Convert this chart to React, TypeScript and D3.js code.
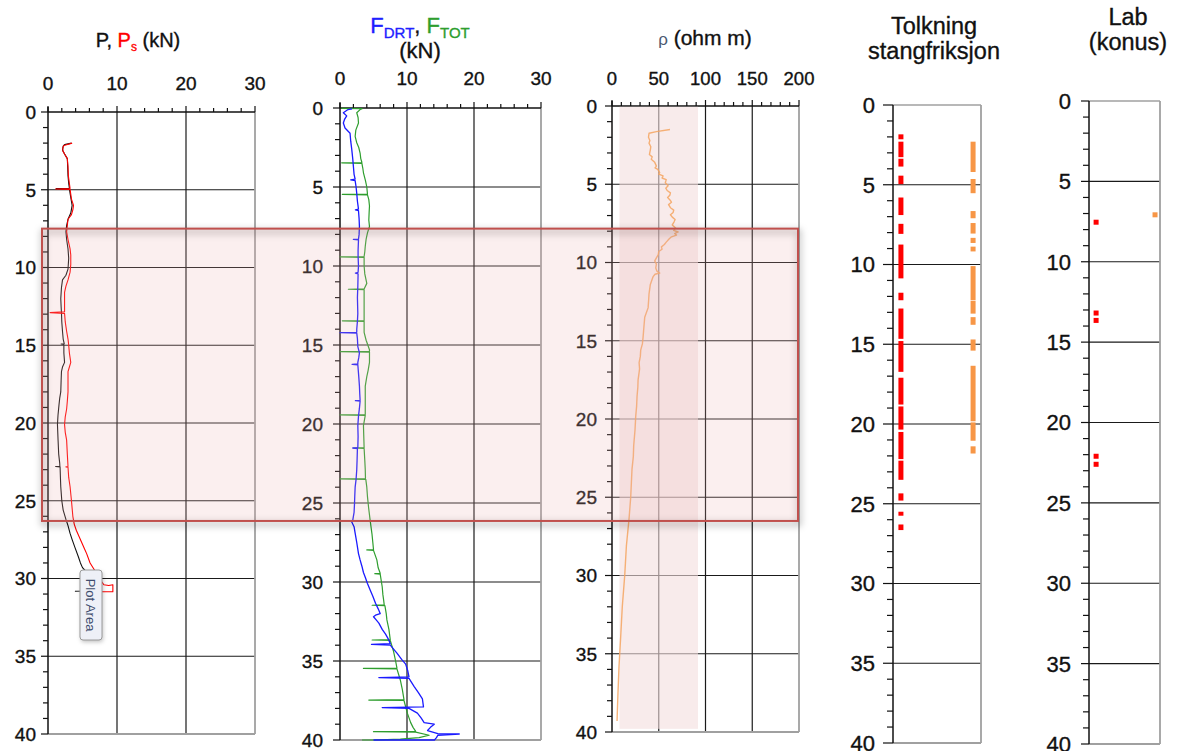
import React from 'react';
import * as d3 from 'd3';

// ---------------- DATA ----------------
const DEPTH_MAJOR = [0, 5, 10, 15, 20, 25, 30, 35, 40];
const DEPTH_MINOR = d3.range(0, 41, 1);

const P1_TICKS = [0, 10, 20, 30];
const P2_TICKS = [0, 10, 20, 30];
const P3_TICKS = [0, 50, 100, 150, 200];

// P (black) [depth m, kN]
const P_BLACK: [number, number][] = [
  [2.0, 3.4], [2.1, 2.4], [2.2, 2.2], [2.45, 2.1], [2.7, 2.4], [3.0, 2.8], [3.5, 2.85], [4.1, 2.9], [4.6, 3.0], [4.9, 3.1],
  [4.93, 1.2], [4.96, 3.1], [5.5, 3.3], [6.0, 3.5], [6.5, 3.3], [6.9, 2.9], [7.3, 2.7], [7.7, 2.6], [8.2, 2.7], [8.8, 2.9],
  [9.4, 3.0], [10.1, 2.9], [10.5, 2.6], [10.8, 2.1], [11.3, 1.95], [12.0, 1.85], [12.5, 1.9], [12.9, 1.95], [13.5, 2.0],
  [14.1, 2.1], [14.6, 2.2], [14.9, 2.35], [14.92, 1.9], [14.95, 2.3], [15.5, 2.3], [16.1, 2.4], [16.4, 2.1], [16.7, 1.95],
  [17.3, 1.9], [18.0, 1.85], [18.4, 1.7], [18.8, 1.6], [19.5, 1.45], [20.1, 1.37], [21.1, 1.46], [22.0, 1.55], [22.6, 1.7],
  [22.78, 1.72], [22.8, 1.1], [22.82, 1.75], [23.5, 1.8], [24.1, 1.85], [25.0, 2.0], [25.6, 2.2], [26.2, 2.6], [26.6, 2.9],
  [27.1, 3.2], [27.5, 3.5], [28.0, 3.9], [28.6, 4.4], [29.0, 4.7], [29.3, 5.0], [29.5, 5.4], [30.0, 5.6], [30.5, 5.3],
  [30.8, 5.0], [30.82, 3.9],
];

// Ps (red)
const PS_RED: [number, number][] = [
  [2.0, 3.5], [2.15, 2.3], [2.3, 2.15], [2.5, 2.15], [2.7, 2.4], [3.0, 2.8], [3.5, 2.9], [4.1, 2.95], [4.6, 3.1], [4.92, 3.2],
  [4.95, 1.1], [4.98, 3.2], [5.6, 3.4], [6.0, 3.7], [6.3, 3.6], [6.6, 3.4], [6.9, 2.9], [7.3, 2.8], [7.7, 2.7], [8.2, 2.9],
  [8.8, 3.2], [9.2, 3.3], [9.8, 3.3], [10.3, 3.2], [10.8, 2.9], [11.2, 2.6], [11.6, 2.4], [12.2, 2.4], [12.85, 2.4],
  [12.9, 0.3], [12.95, 2.4], [13.5, 2.5], [14.1, 2.7], [14.6, 2.9], [15.0, 3.0], [15.5, 3.1], [16.1, 3.3], [16.4, 3.1],
  [16.7, 2.9], [17.3, 2.9], [18.0, 2.9], [18.6, 2.8], [19.1, 2.7], [19.6, 2.5], [20.1, 2.4], [20.6, 2.5], [21.1, 2.7],
  [22.0, 2.8], [22.8, 2.9], [22.82, 2.6], [22.85, 2.9], [23.5, 3.0], [24.1, 3.2], [25.0, 3.4], [26.0, 3.6], [26.5, 3.8],
  [26.9, 4.1], [27.3, 4.5], [27.7, 4.9], [28.1, 5.3], [28.4, 5.6], [29.0, 6.1], [29.5, 6.8], [29.8, 7.2], [30.1, 7.6],
  [30.4, 8.1], [30.45, 8.8], [30.4, 9.4], [30.85, 9.4], [30.85, 7.8],
];

// F_DRT (blue)
const F_DRT: [number, number][] = [
  [0.05, 1.8], [0.1, 1.2], [0.3, 0.5], [0.5, 1.0], [0.7, 0.7], [0.95, 0.5], [1.27, 0.75], [1.6, 1.5], [2.1, 1.6], [2.6, 1.75],
  [3.2, 1.9], [3.7, 2.0], [4.2, 2.1], [4.5, 2.26], [4.55, 1.6], [4.6, 2.26], [5.0, 2.4], [5.4, 2.5], [5.9, 2.6], [6.4, 2.76],
  [6.45, 2.3], [6.5, 2.76], [7.0, 2.85], [7.5, 2.9], [8.0, 2.85], [8.3, 2.76], [8.32, 2.0], [8.35, 2.76], [9.0, 2.7],
  [9.4, 2.7], [10.0, 2.76], [10.4, 2.7], [10.45, 2.3], [10.5, 2.7], [11.3, 2.66], [12.0, 2.6], [13.0, 2.66], [13.5, 2.6],
  [14.0, 2.5], [14.2, 2.5], [14.22, 0.0], [14.25, 2.5], [14.6, 2.6], [15.1, 2.66], [15.5, 2.9], [15.8, 2.8], [16.1, 2.66],
  [16.2, 2.66], [16.22, 1.8], [16.25, 2.66], [17.0, 2.8], [17.6, 2.9], [18.1, 2.95], [18.5, 3.0], [18.52, 2.3], [18.55, 3.0],
  [19.0, 2.9], [19.5, 2.76], [20.1, 2.66], [20.8, 2.7], [21.5, 2.66], [21.52, 1.9], [21.55, 2.6], [22.3, 2.55], [22.9, 2.5],
  [23.5, 2.4], [24.0, 2.26], [24.6, 2.2], [25.1, 2.16], [25.6, 2.1], [26.1, 1.9], [26.15, 1.7], [26.5, 2.1], [26.9, 2.26],
  [27.5, 2.5], [28.2, 2.76], [28.6, 3.0], [29.0, 3.27], [29.4, 3.5], [29.7, 3.77], [30.1, 4.1], [30.5, 4.5], [30.9, 4.9],
  [31.35, 5.3], [31.7, 5.7], [32.0, 6.0], [32.1, 5.3], [32.2, 5.0], [32.4, 5.4], [32.6, 5.8], [33.0, 6.3], [33.3, 6.8],
  [33.6, 7.2], [33.9, 7.5], [33.95, 4.7], [34.0, 7.5], [34.5, 8.5], [34.9, 9.2], [35.2, 9.8], [35.6, 10.1], [36.0, 10.3],
  [36.05, 5.8], [36.1, 10.3], [36.6, 11.05], [37.0, 11.7], [37.4, 12.3], [37.9, 12.46], [37.92, 10.3], [37.95, 6.3],
  [38.0, 10.3], [38.3, 11.55], [38.6, 12.1], [38.9, 12.56], [39.0, 14.07], [39.2, 13.5], [39.4, 13.07], [39.6, 14.6],
  [39.62, 17.8], [39.7, 14.6], [39.85, 14.4], [40.0, 14.1], [40.0, 5.0],
];

// F_TOT (green)
const F_TOT: [number, number][] = [
  [0.02, 0.2], [0.04, 3.3], [0.1, 3.0], [0.3, 2.5], [0.6, 2.7], [0.95, 2.76], [1.4, 2.36], [1.8, 2.26], [2.2, 2.5],
  [2.5, 2.8], [2.85, 3.0], [3.2, 3.1], [3.45, 3.27], [3.47, 0.25], [3.5, 3.27], [3.8, 3.4], [4.1, 3.5], [4.6, 3.8],
  [5.0, 4.0], [5.45, 4.1], [5.47, 0.35], [5.5, 4.1], [5.8, 4.3], [6.2, 4.4], [6.6, 4.35], [7.1, 4.3], [7.5, 4.4], [7.9, 4.1],
  [8.3, 3.9], [8.75, 3.77], [9.1, 3.7], [9.4, 3.6], [9.42, 0.0], [9.45, 3.6], [10.0, 3.6], [10.5, 3.7], [11.1, 4.0],
  [11.45, 3.6], [11.47, 1.25], [11.5, 3.6], [12.2, 3.6], [13.0, 3.6], [13.45, 3.6], [13.47, 0.35], [13.5, 3.6], [14.2, 3.6],
  [14.7, 3.9], [15.3, 4.4], [15.4, 4.4], [15.42, 0.0], [15.45, 4.4], [16.1, 4.4], [16.6, 4.2], [17.0, 4.0], [17.6, 3.77],
  [18.5, 3.77], [19.3, 3.77], [19.4, 3.77], [19.42, 0.0], [19.45, 3.77], [20.1, 3.5], [20.8, 3.55], [21.5, 3.6],
  [21.52, 2.0], [21.55, 3.6], [22.3, 3.7], [22.9, 3.77], [23.45, 3.8], [23.47, 0.0], [23.5, 3.85], [24.0, 4.0], [24.6, 4.1],
  [25.3, 4.27], [26.1, 4.5], [26.95, 4.77], [27.5, 4.9], [27.95, 5.0], [27.97, 4.0], [28.0, 5.0], [28.6, 5.5], [29.1, 5.7],
  [29.45, 6.0], [29.47, 5.2], [29.5, 6.0], [30.3, 6.3], [30.8, 6.4], [31.1, 6.5], [31.45, 6.6], [31.47, 4.8], [31.5, 6.7],
  [32.0, 6.9], [32.4, 7.0], [33.0, 7.3], [33.65, 7.5], [33.67, 4.8], [33.7, 7.5], [34.4, 8.0], [35.0, 8.3], [35.45, 8.5],
  [35.47, 3.5], [35.5, 8.5], [36.2, 9.0], [36.8, 9.3], [37.45, 9.55], [37.47, 4.3], [37.5, 9.55], [38.3, 10.05],
  [38.9, 10.55], [39.2, 10.9], [39.45, 11.3], [39.47, 5.0], [39.5, 11.3], [39.7, 13.3], [39.85, 11.8], [39.95, 9.0],
  [40.0, 5.0], [40.0, 3.3],
];

// resistivity rho (orange) [depth, ohm m]
const RHO: [number, number][] = [
  [1.5, 62], [1.64, 47.5], [1.74, 39.6], [2.0, 39], [2.2, 40.5], [2.37, 39.6], [2.6, 41.5], [2.8, 41], [3.1, 40],
  [3.25, 43], [3.4, 42], [3.6, 45.7], [3.84, 47.5], [3.95, 46], [4.05, 49], [4.26, 51], [4.35, 50], [4.47, 54.6],
  [4.6, 53.5], [4.7, 58], [4.9, 57], [5.1, 60], [5.25, 57.5], [5.4, 59], [5.55, 62.5], [5.7, 61.8], [5.85, 59.5],
  [6.0, 62], [6.15, 63.6], [6.3, 60.5], [6.5, 62.5], [6.65, 66], [6.8, 65.4], [6.95, 62.5], [7.1, 64.5], [7.25, 67.5],
  [7.4, 66.4], [7.6, 64.5], [7.8, 68], [7.95, 66], [8.05, 70.7], [8.15, 67], [8.25, 69], [8.36, 63.6], [8.5, 61],
  [8.7, 58], [8.85, 56], [9.0, 52.9], [9.15, 53.5], [9.3, 50], [9.5, 49.5], [9.7, 47.5], [9.9, 45.7], [10.1, 47.5],
  [10.35, 46.8], [10.55, 48], [10.67, 51], [10.75, 46], [10.9, 44], [11.4, 41], [12.0, 39.6], [12.4, 39.2], [12.9, 38.6],
  [13.5, 35], [14.2, 34], [14.8, 33.2], [15.2, 32.5], [15.6, 30.7], [16.0, 30.3], [16.4, 29], [16.8, 29.5], [17.5, 27.9],
  [18.0, 27.6], [18.55, 26.8], [19.2, 26.3], [19.8, 25.4], [20.7, 24.6], [21.7, 23.2], [22.4, 22.8], [23.2, 21.4],
  [25.0, 20], [26.4, 18.2], [28.1, 15.4], [30, 13.6], [32, 11], [33.9, 9.3], [35.8, 7.5], [37.5, 6.4], [39.3, 5.4],
];
const RHO_BAND: [number, number] = [8, 92];
const RHO_BAND_DEPTH: [number, number] = [0.05, 39.8];

// Tolkning stangfriksjon: depth intervals
const TOLK_RED: [number, number][] = [
  [1.84, 2.15], [2.3, 3.27], [3.37, 3.86], [4.43, 4.96], [5.8, 6.9], [7.45, 8.08], [8.75, 10.87], [11.77, 12.24],
  [12.76, 14.66], [14.8, 16.73], [17.1, 18.78], [18.9, 20.35], [20.5, 22.2], [22.3, 23.5], [24.35, 24.8], [25.5, 25.75],
  [26.3, 26.65],
];
const TOLK_ORANGE: [number, number][] = [
  [2.3, 4.2], [4.64, 5.53], [6.65, 7.1], [7.4, 8.06], [8.33, 8.65], [8.88, 9.18], [10.1, 12.24], [12.28, 13.08],
  [13.3, 13.78], [14.7, 15.4], [16.35, 19.83], [19.9, 21.05], [21.4, 21.85],
];
// Lab (konus) points
const LAB_RED = [7.54, 13.19, 13.65, 22.1, 22.6];
const LAB_ORANGE = [7.08];

// Shaded highlight depth interval
const HIGHLIGHT_DEPTH: [number, number] = [7.5, 26.3];

// ---------------- LAYOUT ----------------
const FONT = 'Liberation Sans, Arial, sans-serif';
const GRID = '#1a1a1a';
const BORDER = '#a0a0a0';
const TXT_STROKE = 0.35;

type Cfg = {
  x0: number; x1: number; y0: number; y1: number;
  xDom: [number, number]; xTicks: number[]; xMinor: number[];
  xLabelBase: number; xFont: number; yFont: number; yLabelRight: number;
  majorLen: number; minorLen: number; showX: boolean;
};

const C1: Cfg = { x0: 48, x1: 255, y0: 112, y1: 734, xDom: [0, 30], xTicks: P1_TICKS, xMinor: d3.range(0, 31, 2),
  xLabelBase: 90, xFont: 19, yFont: 19, yLabelRight: 36, majorLen: 7, minorLen: 5, showX: true };
const C2: Cfg = { x0: 340, x1: 541, y0: 108, y1: 740, xDom: [0, 30], xTicks: P2_TICKS, xMinor: d3.range(0, 31, 2),
  xLabelBase: 85, xFont: 19, yFont: 19, yLabelRight: 323, majorLen: 7, minorLen: 5, showX: true };
const C3: Cfg = { x0: 612, x1: 799, y0: 106, y1: 732, xDom: [0, 200], xTicks: P3_TICKS, xMinor: d3.range(0, 201, 10),
  xLabelBase: 85, xFont: 18.5, yFont: 19, yLabelRight: 597, majorLen: 7, minorLen: 5, showX: true };
const C4: Cfg = { x0: 893, x1: 981, y0: 105, y1: 743, xDom: [0, 1], xTicks: [0, 1], xMinor: [],
  xLabelBase: 0, xFont: 0, yFont: 22, yLabelRight: 875, majorLen: 10, minorLen: 6, showX: false };
const C5: Cfg = { x0: 1089, x1: 1160, y0: 101, y1: 744, xDom: [0, 1], xTicks: [0, 1], xMinor: [],
  xLabelBase: 0, xFont: 0, yFont: 22, yLabelRight: 1071, majorLen: 8, minorLen: 6, showX: false };

const TOLK_X = { red: 0.09, orange: 0.91 };
const LAB_X = { red: 0.1, orange: 0.93 };

function scales(c: Cfg) {
  const x = d3.scaleLinear().domain(c.xDom).range([c.x0, c.x1]);
  const y = d3.scaleLinear().domain([0, 40]).range([c.y0, c.y1]);
  return { x, y };
}

function Frame({ c }: { c: Cfg }) {
  const { x, y } = scales(c);
  const inner = DEPTH_MAJOR.filter(d => d > 0 && d < 40);
  const vGrid = c.xTicks.filter(t => t > c.xDom[0] && t < c.xDom[1]);
  return (
    <g>
      {inner.map(d => (
        <line key={'h' + d} x1={c.x0} x2={c.x1} y1={y(d)} y2={y(d)} stroke={GRID} strokeWidth={1.2} />
      ))}
      {vGrid.map(t => (
        <line key={'v' + t} x1={x(t)} x2={x(t)} y1={c.y0} y2={c.y1} stroke={GRID} strokeWidth={1.2} />
      ))}
      <line x1={c.x1} x2={c.x1} y1={c.y0} y2={c.y1} stroke={BORDER} strokeWidth={1.8} />
      <line x1={c.x0} x2={c.x1} y1={c.y1} y2={c.y1} stroke={BORDER} strokeWidth={1.8} />
      <line x1={c.x0} x2={c.x1} y1={c.y0} y2={c.y0} stroke={c.showX ? '#111' : BORDER} strokeWidth={1.5} />
      <line x1={c.x0} x2={c.x0} y1={c.y0 - (c.showX ? 5 : 0)} y2={c.y1} stroke="#111" strokeWidth={1.5} />
      {DEPTH_MINOR.map(d => (
        <line key={'ym' + d} x1={c.x0 - (d % 5 === 0 ? c.majorLen : c.minorLen)} x2={c.x0} y1={y(d)} y2={y(d)}
          stroke="#111" strokeWidth={1.2} />
      ))}
      {DEPTH_MAJOR.map(d => (
        <text key={'yl' + d} x={c.yLabelRight} y={y(d)} dy="0.36em" textAnchor="end" fontFamily={FONT}
          fontSize={c.yFont} fill="#111" stroke="#111" strokeWidth={TXT_STROKE}>{d}</text>
      ))}
      {c.showX && c.xMinor.map(t => (
        <line key={'xm' + t} x1={x(t)} x2={x(t)} y1={c.y0 - (c.xTicks.includes(t) ? 6 : 4)} y2={c.y0}
          stroke="#111" strokeWidth={1.2} />
      ))}
      {c.showX && c.xTicks.map(t => (
        <text key={'xl' + t} x={x(t)} y={c.xLabelBase} textAnchor="middle" fontFamily={FONT} fontSize={c.xFont}
          fill="#111" stroke="#111" strokeWidth={TXT_STROKE}>{t}</text>
      ))}
    </g>
  );
}

function Curve({ c, data, color, width = 1, opacity = 1 }:
  { c: Cfg; data: [number, number][]; color: string; width?: number; opacity?: number }) {
  const { x, y } = scales(c);
  const line = d3.line<[number, number]>().x(d => x(d[1])).y(d => y(d[0]));
  return <path d={line(data) || ''} fill="none" stroke={color} strokeWidth={width} strokeOpacity={opacity}
    strokeLinejoin="round" />;
}

export default function App() {
  const s3 = scales(C3);
  const s4 = scales(C4);
  const s5 = scales(C5);
  const s1 = scales(C1);
  const hlTop = s1.y(HIGHLIGHT_DEPTH[0]);
  const hlBot = s1.y(HIGHLIGHT_DEPTH[1]);
  const hlLeft = 42, hlRight = 798;
  const tStroke = { stroke: '#111', strokeWidth: TXT_STROKE };

  return (
    <svg width={1177} height={751} viewBox="0 0 1177 751"
      style={{ position: 'absolute', left: 0, top: 0, background: '#fff' }}>
      <defs>
        <filter id="sh" x="-10%" y="-20%" width="120%" height="150%">
          <feGaussianBlur stdDeviation="3.5" />
        </filter>
        <filter id="sh2" x="-50%" y="-20%" width="200%" height="150%">
          <feGaussianBlur stdDeviation="2" />
        </filter>
      </defs>
      <rect x={0} y={0} width={1177} height={751} fill="#fff" />

      {/* Titles */}
      <text x={138} y={47} textAnchor="middle" fontFamily={FONT} fontSize={20} fill="#111" {...tStroke}>
        <tspan>P, </tspan><tspan fill="#ff0000" stroke="#ff0000">P</tspan>
        <tspan fill="#ff0000" stroke="#ff0000" fontSize={12} dy={4}>s</tspan>
        <tspan dy={-4}>{'  (kN)'}</tspan>
      </text>
      <text x={420} y={33} textAnchor="middle" fontFamily={FONT} fontSize={22} fill="#111" {...tStroke}>
        <tspan fill="#2020ff" stroke="#2020ff">F</tspan>
        <tspan fill="#2020ff" stroke="#2020ff" fontSize={15} dy={5}>DRT</tspan>
        <tspan dy={-5}>, </tspan>
        <tspan fill="#2e9e2e" stroke="#2e9e2e">F</tspan>
        <tspan fill="#2e9e2e" stroke="#2e9e2e" fontSize={15} dy={5}>TOT</tspan>
      </text>
      <text x={420} y={58} textAnchor="middle" fontFamily={FONT} fontSize={22} fill="#111" {...tStroke}>(kN)</text>
      <text x={705} y={45} textAnchor="middle" fontFamily={FONT} fontSize={21} fill="#111" {...tStroke}>
        <tspan fill="#4a5870" stroke="none" fontSize={17}>ρ</tspan>
        <tspan>{'  (ohm m)'}</tspan>
      </text>
      <text x={934} y={34} textAnchor="middle" fontFamily={FONT} fontSize={23.5} fill="#111" {...tStroke}>Tolkning</text>
      <text x={934} y={59} textAnchor="middle" fontFamily={FONT} fontSize={23.5} fill="#111" {...tStroke}>stangfriksjon</text>
      <text x={1128} y={25} textAnchor="middle" fontFamily={FONT} fontSize={23.5} fill="#111" {...tStroke}>Lab</text>
      <text x={1128} y={50} textAnchor="middle" fontFamily={FONT} fontSize={23.5} fill="#111" {...tStroke}>(konus)</text>

      {/* Panel 1 */}
      <Frame c={C1} />
      <Curve c={C1} data={P_BLACK} color="#111" width={1.1} />
      <Curve c={C1} data={PS_RED} color="#ff0000" width={1.1} />

      {/* Panel 2 */}
      <Frame c={C2} />
      <Curve c={C2} data={F_TOT} color="#2e9e2e" width={1.2} />
      <Curve c={C2} data={F_DRT} color="#1a1aff" width={1.3} />

      {/* Panel 3 */}
      <Frame c={C3} />
      <rect x={s3.x(RHO_BAND[0])} width={s3.x(RHO_BAND[1]) - s3.x(RHO_BAND[0])}
        y={s3.y(RHO_BAND_DEPTH[0])} height={s3.y(RHO_BAND_DEPTH[1]) - s3.y(RHO_BAND_DEPTH[0])}
        fill="#f3dede" fillOpacity={0.6} />
      <Curve c={C3} data={RHO} color="#f4a460" width={1.4} opacity={0.85} />

      {/* Panel 4 */}
      <Frame c={C4} />
      {TOLK_RED.map((iv, i) => (
        <rect key={'tr' + i} x={s4.x(TOLK_X.red) - 2.5} width={5} y={s4.y(iv[0])} height={s4.y(iv[1]) - s4.y(iv[0])}
          fill="#ff0000" />
      ))}
      {TOLK_ORANGE.map((iv, i) => (
        <rect key={'to' + i} x={s4.x(TOLK_X.orange) - 2.5} width={5} y={s4.y(iv[0])} height={s4.y(iv[1]) - s4.y(iv[0])}
          fill="#f79646" />
      ))}

      {/* Panel 5 */}
      <Frame c={C5} />
      {LAB_RED.map((d, i) => (
        <rect key={'lr' + i} x={s5.x(LAB_X.red) - 2.5} y={s5.y(d) - 2.5} width={5} height={5} fill="#ff0000" />
      ))}
      {LAB_ORANGE.map((d, i) => (
        <rect key={'lo' + i} x={s5.x(LAB_X.orange) - 2.5} y={s5.y(d) - 2.5} width={5} height={5} fill="#f79646" />
      ))}

      {/* Highlight rectangle */}
      <rect x={hlLeft + 1} y={hlTop + 3} width={hlRight - hlLeft} height={hlBot - hlTop} fill="none"
        stroke="#000" strokeOpacity={0.28} strokeWidth={4} filter="url(#sh)" />
      <rect x={hlLeft} y={hlTop} width={hlRight - hlLeft} height={hlBot - hlTop} fill="#e9b0b0" fillOpacity={0.2}
        stroke="#c0504d" strokeWidth={2} />

      {/* Plot Area tooltip */}
      <rect x={81} y={572} width={22} height={70} rx={3} fill="#000" fillOpacity={0.25} filter="url(#sh2)" />
      <rect x={80} y={570} width={22} height={70} rx={3} fill="#eef0f7" stroke="#9a9a9a" strokeWidth={1} />
      <text transform="translate(91,605) rotate(90)" textAnchor="middle" dy="0.35em" fontFamily={FONT}
        fontSize={13} fill="#3f4d6e">Plot Area</text>
    </svg>
  );
}
